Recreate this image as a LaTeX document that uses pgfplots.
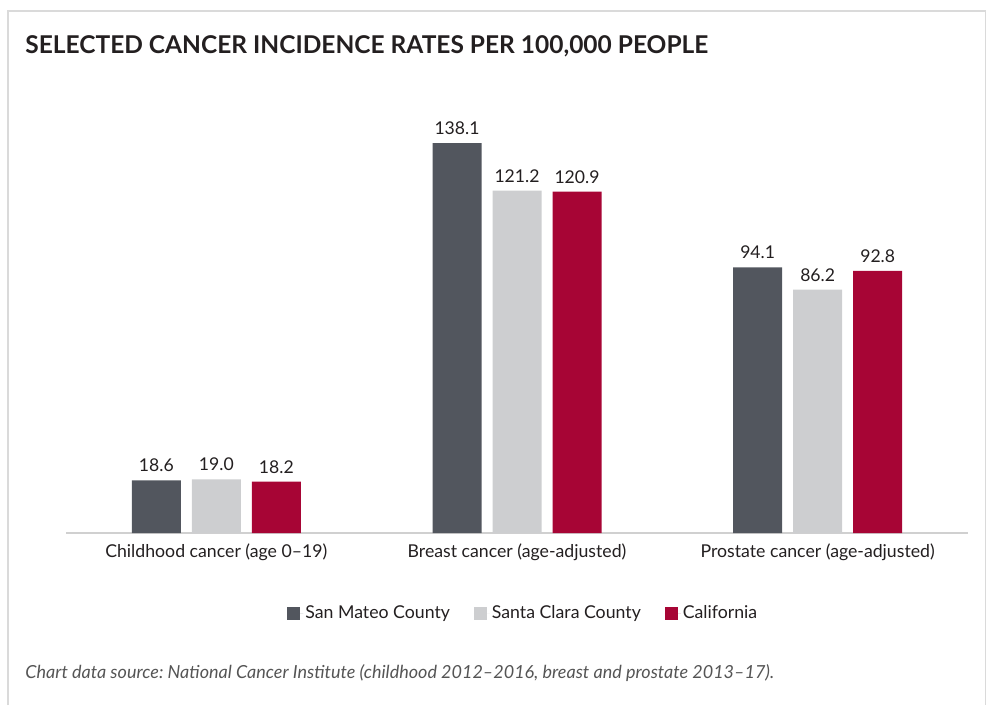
\documentclass[border=0pt]{standalone}
\usepackage{pgfplots}
\pgfplotsset{compat=1.18}
\usepackage{fontspec}
\setmainfont{Lato}
\frenchspacing
\definecolor{smc}{HTML}{52565E}
\definecolor{scc}{HTML}{CDCED0}
\definecolor{cal}{HTML}{A70535}
\definecolor{axisgray}{HTML}{D0D0D0}
\definecolor{framegray}{HTML}{DADADA}
\definecolor{txt}{HTML}{231F20}
\definecolor{notegray}{HTML}{555555}

\pgfplotstableread{
x sanmateo santaclara california
0 18.6 19.0 18.2
1 138.1 121.2 120.9
2 94.1 86.2 92.8
}\ratestable

\begin{document}
\begin{tikzpicture}
\useasboundingbox (0,0) rectangle (494pt,-352.5pt);
% frame around the panel
\draw[framegray, line width=0.6pt] (4pt,-352.5pt) -- (4pt,-5.5pt) -- (492.75pt,-5.5pt) -- (492.75pt,-352.5pt);
% title
\node[anchor=base west, inner sep=0pt, font=\fontsize{12.25}{14}\selectfont\bfseries, text=txt]
  at (12.5pt,-27pt) {SELECTED CANCER INCIDENCE RATES PER 100,000 PEOPLE};
\begin{axis}[
  at={(33pt,-266.5pt)}, anchor=south west,
  scale only axis, width=451pt, height=211.8pt,
  xmin=-0.5, xmax=2.5, ymin=0, ymax=150,
  ybar=5.5pt, bar width=24.5pt,
  axis x line=bottom, axis y line=none,
  x axis line style={axisgray, line width=1pt, -},
  xtick={0,1,2},
  xticklabels={Childhood cancer (age 0--19), Breast cancer (age-adjusted), Prostate cancer (age-adjusted)},
  major tick length=0pt,
  ytick=\empty,
  xticklabel style={font=\fontsize{8.85}{10}\selectfont, text=txt, inner sep=0pt, yshift=-5pt},
  /pgf/number format/assume math mode=true,
  nodes near coords={\pgfmathprintnumber[fixed,fixed zerofill,precision=1]{\pgfplotspointmeta}},
  nodes near coords style={font=\fontsize{8.8}{10}\selectfont, text=txt, inner sep=0pt, anchor=south, yshift=4pt},
  legend columns=3,
  legend style={at={(0.507,-0.191)}, anchor=center, draw=none, fill=none,
    font=\fontsize{8.85}{10}\selectfont, text=txt,
    /tikz/every even column/.append style={column sep=11pt},
    nodes={inner sep=1pt}},
  legend image code/.code={\fill[#1] (0pt,-3.25pt) rectangle (6.5pt,3.25pt);
    \path (0pt,0pt) -- (8pt,0pt);},
]
\addplot[draw=none, fill=smc] table[x=x, y=sanmateo] {\ratestable};
\addplot[draw=none, fill=scc] table[x=x, y=santaclara] {\ratestable};
\addplot[draw=none, fill=cal] table[x=x, y=california] {\ratestable};
\legend{San Mateo County, Santa Clara County, California}
\end{axis}
% source note
\node[anchor=base west, inner sep=0pt, font=\fontsize{9}{10}\selectfont\itshape, text=notegray]
  at (12.5pt,-339pt) {Chart data source: National Cancer Institute (childhood 2012--2016, breast and prostate 2013--17).};
\end{tikzpicture}
\end{document}
